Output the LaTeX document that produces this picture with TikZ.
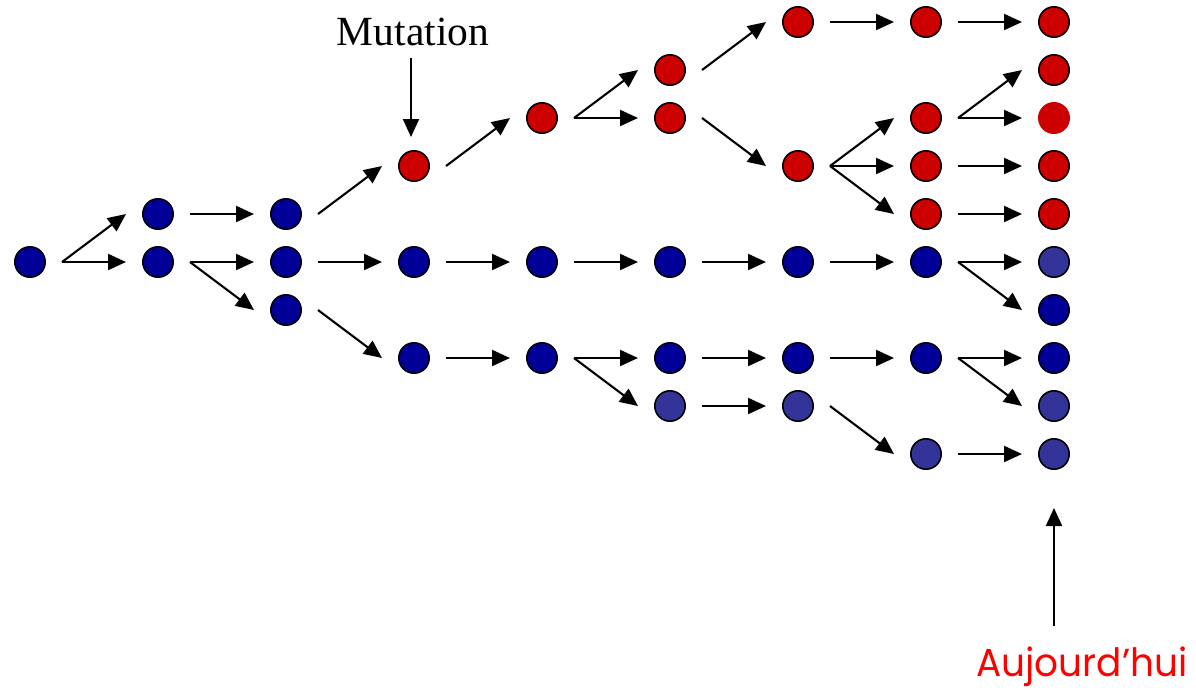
\documentclass[tikz,border=0pt]{standalone}
\usepackage{fontspec}
\newfontfamily\labelserif{Liberation Serif}
\newfontfamily\labelgeo{Poppins}
\usetikzlibrary{arrows.meta}
\definecolor{cellB}{HTML}{000099}
\definecolor{cellL}{HTML}{333399}
\definecolor{cellR}{HTML}{CC0000}
\definecolor{todayred}{HTML}{FF0000}
\begin{document}
\begin{tikzpicture}[x=1pt,y=-1pt,
  cell/.style={circle,draw=black,line width=1.6pt,minimum size=30.4pt,inner sep=0pt,fill=cell#1},
  bare cell/.style={circle,minimum size=32pt,inner sep=0pt,fill=cellR},
  link/.style={-{Triangle[length=18pt,width=16pt]},line width=2.1pt}]
\useasboundingbox (0,0) rectangle (1196,689);
% cells: column / row / colour
\foreach \c/\r/\s in {0/5/B,
  1/4/B,1/5/B,
  2/4/B,2/5/B,2/6/B,
  3/3/R,3/5/B,3/7/B,
  4/2/R,4/5/B,4/7/B,
  5/1/R,5/2/R,5/5/B,5/7/B,5/8/L,
  6/0/R,6/3/R,6/5/B,6/7/B,6/8/L,
  7/0/R,7/2/R,7/3/R,7/4/R,7/5/B,7/7/B,7/9/L,
  8/0/R,8/1/R,8/3/R,8/4/R,8/5/L,8/6/B,8/7/B,8/8/L,8/9/L}
  \node[cell=\s] (n\c-\r) at (30+128*\c,22+48*\r) {};
\node[bare cell] (n8-2) at (30+128*8,22+48*2) {};
% descent arrows
\foreach \a/\b in {0-5/1-4,0-5/1-5,
  1-4/2-4,1-5/2-5,1-5/2-6,
  2-4/3-3,2-5/3-5,2-6/3-7,
  3-3/4-2,3-5/4-5,3-7/4-7,
  4-2/5-1,4-2/5-2,4-5/5-5,4-7/5-7,4-7/5-8,
  5-1/6-0,5-2/6-3,5-5/6-5,5-7/6-7,5-8/6-8,
  6-0/7-0,6-3/7-2,6-3/7-3,6-3/7-4,6-5/7-5,6-7/7-7,6-8/7-9,
  7-0/8-0,7-2/8-1,7-2/8-2,7-3/8-3,7-4/8-4,7-5/8-5,7-5/8-6,7-7/8-7,7-7/8-8,7-9/8-9}
  \draw[link] ([xshift=32pt]n\a.center) -- ([xshift=-32pt]n\b.center);
% labels
\node[anchor=base,font=\labelserif\fontsize{41.5}{48}\selectfont,inner sep=0pt] (mut) at (413,45) {Mutation};
\coordinate (mutfoot) at (411,58);
\draw[link] (mutfoot) -- ([xshift=-3pt,yshift=13pt]n3-3.north);
\node[anchor=base,font=\labelgeo\fontsize{39}{46}\selectfont,text=todayred,inner sep=0pt] (today) at (1082,676) {\scalebox{0.96}[1]{Aujourd’hui}};
\coordinate (todayfoot) at (1054,626);
\draw[link] (todayfoot) -- ([yshift=-38pt]n8-9.south);
\end{tikzpicture}
\end{document}
